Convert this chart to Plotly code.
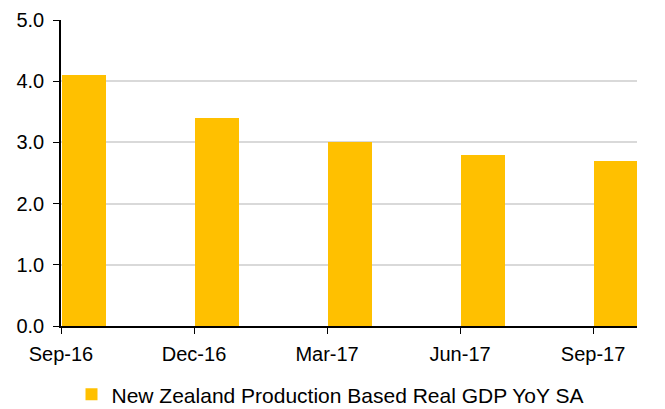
import plotly.graph_objects as go

categories = ["Sep-16", "Dec-16", "Mar-17", "Jun-17", "Sep-17"]
gdp_yoy = [4.1, 3.4, 3.0, 2.8, 2.7]
series_name = "New Zealand Production Based Real GDP YoY SA"
y_ticks = [0, 1, 2, 3, 4, 5]
y_ticktext = ["0.0", "1.0", "2.0", "3.0", "4.0", "5.0"]

positions = list(range(len(categories)))

fig = go.Figure()
fig.add_trace(go.Bar(
    x=positions, y=gdp_yoy, name=series_name,
    marker=dict(color="#FFC000", line=dict(width=0)),
    width=0.33, offset=0.01,
))

font_family = "Liberation Sans, Arial, sans-serif"
fig.update_layout(
    width=665, height=409,
    margin=dict(l=61, r=28, t=20, b=83),
    paper_bgcolor="white", plot_bgcolor="white",
    font=dict(family=font_family, size=20, color="#000000"),
    showlegend=True,
    legend=dict(orientation="h", xref="container", yref="container",
                x=0.497, xanchor="center", y=0.035, yanchor="middle",
                font=dict(size=21), itemwidth=30),
    xaxis=dict(range=[0, 4.33], tickmode="array", tickvals=positions,
               ticktext=categories, showgrid=False, zeroline=False,
               showline=True, linecolor="black", linewidth=2,
               ticks="outside", ticklen=6, tickcolor="black", tickwidth=1,
               ticklabelstandoff=3, automargin=False),
    yaxis=dict(range=[0, 5], tickmode="array", tickvals=y_ticks,
               ticktext=y_ticktext, showgrid=True, gridcolor="#d9d9d9",
               gridwidth=1.5, zeroline=False, showline=True,
               linecolor="black", linewidth=1.5, ticks="outside", ticklen=6,
               tickcolor="black", tickwidth=1, ticklabelstandoff=5,
               automargin=False),
    bargap=0,
)

fig.write_html("out.html", config={"displayModeBar": False},
               post_script="document.body.style.margin='0';document.body.style.overflow='hidden';")
